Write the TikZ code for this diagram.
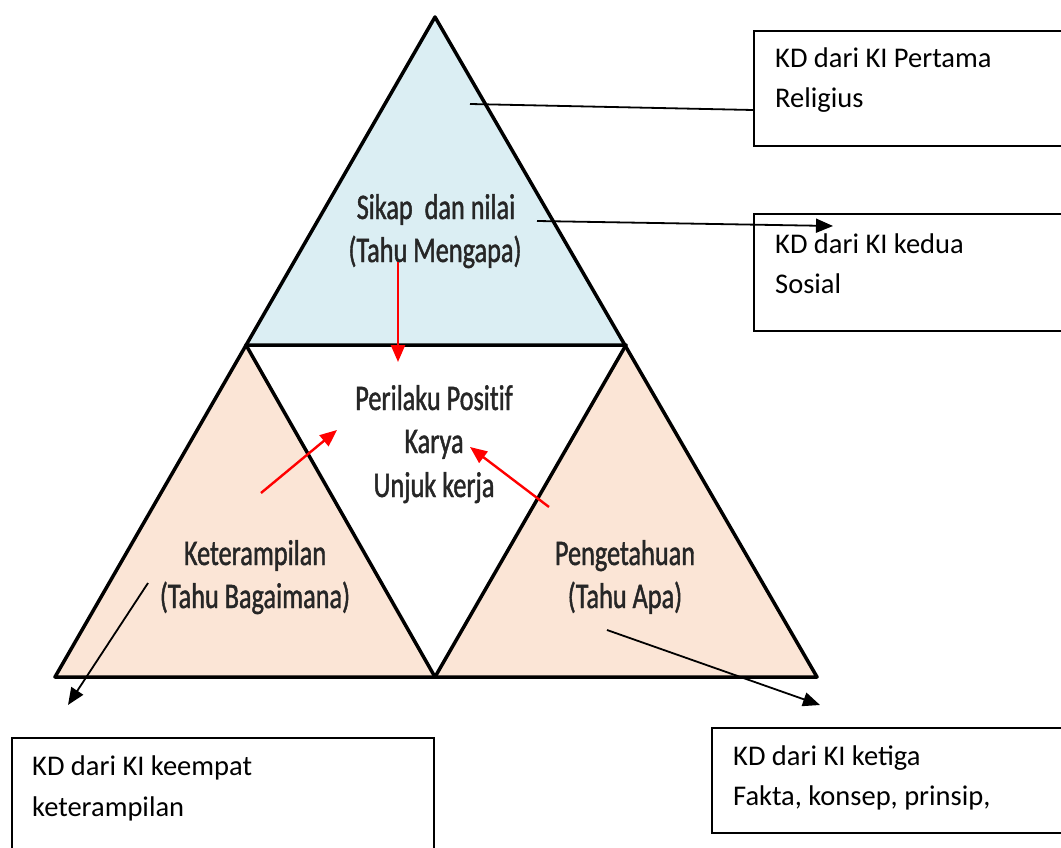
\documentclass[tikz,border=0pt]{standalone}
\usepackage{fontspec}
\setmainfont{Carlito}
\newfontfamily\condfont[FakeStretch=0.73,FakeBold=1.2,Ligatures=NoCommon]{Carlito}
\usetikzlibrary{arrows.meta}
\definecolor{topblue}{HTML}{DBEEF3}
\definecolor{peach}{HTML}{FBE5D6}
\tikzset{
  tri/.style={draw=black, line width=3.5pt, line join=round},
  kdbox/.style={draw=black, line width=1.8pt, fill=white},
  kdtext/.style={anchor=base west, inner sep=0pt, font=\fontsize{28.5}{32}\selectfont},
  tritext/.style={anchor=base, inner sep=0pt, font=\condfont\fontsize{36}{42}\selectfont, text=black!85},
  blk/.style={draw=black, line width=1.8pt, -{Triangle[length=17pt,width=14pt]}},
  red/.style={draw=red, line width=2.4pt, -{Triangle[length=17pt,width=14pt]}}
}
\begin{document}
\begin{tikzpicture}[x=1pt,y=-1pt]
\useasboundingbox (0,0) rectangle (1061,848);
\clip (0,0) rectangle (1061,848);
\fill[white] (0,0) rectangle (1061,848);
% vertices
\coordinate (A) at (435,17);
\coordinate (L) at (246,345);
\coordinate (R) at (626,345);
\coordinate (BL) at (55,677);
\coordinate (BM) at (435,677);
\coordinate (BR) at (817,677);
\fill[topblue] (A) -- (L) -- (R) -- cycle;
\fill[peach] (L) -- (BL) -- (BM) -- cycle;
\fill[peach] (R) -- (BM) -- (BR) -- cycle;
\draw[tri] (A) -- (BL) -- (BR) -- cycle;
\draw[tri] (L) -- (R) -- (BM) -- cycle;
% triangle texts
\node[tritext] (t1) at (436,219) {Sikap\ \ dan nilai};
\node[tritext] (t2) at (435,262) {(Tahu Mengapa)};
\node[tritext] (c1) at (434,410) {Perilaku Positif};
\node[tritext] (c2) at (434,453) {Karya};
\node[tritext] (c3) at (434,497) {Unjuk kerja};
\node[tritext] (l1) at (255,565) {Keterampilan};
\node[tritext] (l2) at (255,608) {(Tahu Bagaimana)};
\node[tritext] (r1) at (625,565) {Pengetahuan};
\node[tritext] (r2) at (625,608) {(Tahu Apa)};
% boxes
\node[kdbox, anchor=north west, minimum width=340pt, minimum height=115pt, inner sep=0pt] (b1) at (753,30) {};
\node[kdbox, anchor=north west, minimum width=340pt, minimum height=117pt, inner sep=0pt] (b2) at (753,213) {};
\node[kdbox, anchor=north west, minimum width=422pt, minimum height=140pt, inner sep=0pt] (b3) at (11,737) {};
\node[kdbox, anchor=north west, minimum width=380pt, minimum height=105pt, inner sep=0pt] (b4) at (711,727) {};
\node[kdtext] (b1a) at (775,68) {KD dari KI Pertama};
\node[kdtext] (b1b) at (775,108) {Religius};
\node[kdtext] (b2a) at (775,253) {KD dari KI kedua};
\node[kdtext] (b2b) at (775,293) {Sosial};
\node[kdtext] (b3a) at (32,775) {KD dari KI keempat};
\node[kdtext] (b3b) at (32,816) {keterampilan};
\node[kdtext] (b4a) at (733,765) {KD dari KI ketiga};
\node[kdtext] (b4b) at (733,805) {Fakta, konsep, prinsip,};
% connectors
\coordinate (s1) at (470,104);
\coordinate (e1) at (753,110);
\draw[draw=black, line width=1.8pt] (s1) -- (e1);
\coordinate (s2) at (537,221);
\coordinate (e2) at (833,226);
\draw[blk] (s2) -- (e2);
\coordinate (s3) at (148,583);
\coordinate (e3) at (68,705);
\draw[blk] (s3) -- (e3);
\coordinate (s4) at (607,630);
\coordinate (e4) at (820,705);
\draw[blk] (s4) -- (e4);
% red arrows
\coordinate (rs1) at (398,262);
\coordinate (re1) at (398,362);
\draw[red] (rs1) -- (re1);
\coordinate (rs2) at (261,493);
\coordinate (re2) at (337,430);
\draw[red] (rs2) -- (re2);
\coordinate (rs3) at (549,507);
\coordinate (re3) at (470,447);
\draw[red] (rs3) -- (re3);
\end{tikzpicture}
\end{document}
